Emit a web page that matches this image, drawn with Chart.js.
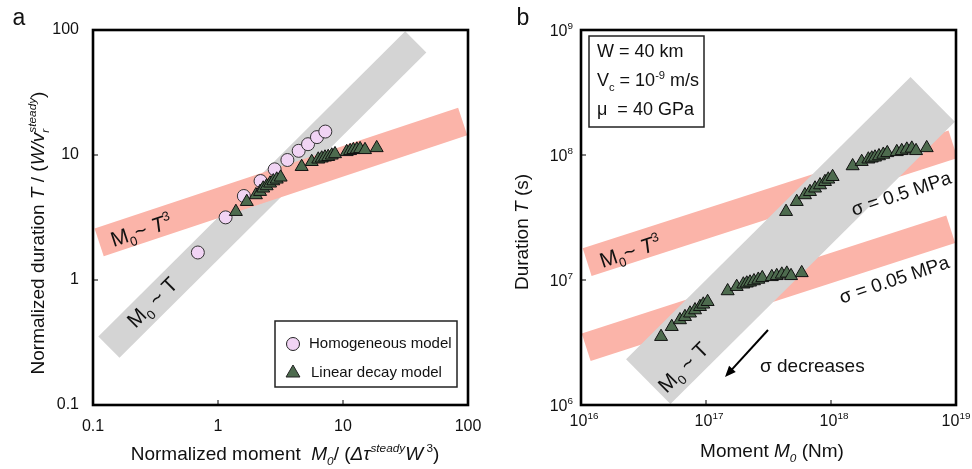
<!DOCTYPE html>
<html>
<head>
<meta charset="utf-8">
<script src="https://cdn.jsdelivr.net/npm/chart.js@4.4.1/dist/chart.umd.min.js"></script>
<style>
  html, body { margin: 0; padding: 0; background: #fff; }
  #wrap { position: relative; width: 972px; height: 469px; }
  canvas { position: absolute; top: 0; }
  #chartA { left: 0; }
  #chartB { left: 486px; }
</style>
</head>
<body>
<div id="wrap">
  <canvas id="chartA" width="486" height="469"></canvas>
  <canvas id="chartB" width="486" height="469"></canvas>
</div>
<script>
/* ---- panel a : normalized moment vs normalized duration ---- */
const homoMoment   = [0.69, 1.15, 1.61, 2.19, 2.84, 3.59, 4.42, 5.25, 6.19, 7.22];
const homoDuration = [1.66, 3.17, 4.70, 6.19, 7.68, 9.12, 10.8, 12.2, 13.9, 15.4];

const decayMoment   = [1.39, 1.70, 2.01, 2.17, 2.30, 2.45, 2.61, 2.77, 2.95, 3.17,
                       4.67, 5.62, 6.34, 6.76, 7.18, 7.62, 8.13, 8.63, 10.7, 11.4, 12.1, 12.9, 13.7, 15.0, 18.6];
const decayDuration = [3.52, 4.23, 4.79, 5.09, 5.42, 5.65, 5.94, 6.19, 6.39, 6.63,
                       8.06, 8.83, 9.24, 9.42, 9.59, 9.69, 9.95, 10.2, 10.6, 10.8, 11.0, 11.1, 11.2, 11.0, 11.4];

// scaling bands (end points)
const bandT_A  = [[0.134, 0.29], [38.2, 80.2]];   // M0 ~ T
const bandT3_A = [[0.112, 2.00], [90.7, 18.5]];   // M0 ~ T^3

const xTicksA = [0.1, 1, 10, 100];
const yTicksA = [0.1, 1, 10, 100];
const legendLabels = ['Homogeneous model', 'Linear decay model'];

/* ---- panel b : moment (Nm) vs duration (s) ---- */
const momentHi   = [4.37e17, 5.32e17, 6.19e17, 6.79e17, 7.45e17, 8.17e17, 8.95e17, 9.51e17, 1.03e18,
                    1.49e18, 1.76e18, 1.99e18, 2.12e18, 2.25e18, 2.42e18, 2.62e18, 2.82e18, 3.36e18, 3.68e18, 4.04e18, 4.43e18, 4.79e18, 5.83e18];
const durationHi = [3.52e7, 4.23e7, 4.79e7, 5.08e7, 5.42e7, 5.75e7, 6.11e7, 6.39e7, 6.70e7,
                    8.17e7, 8.84e7, 9.25e7, 9.42e7, 9.59e7, 9.82e7, 1.01e8, 1.04e8, 1.06e8, 1.08e8, 1.11e8, 1.13e8, 1.08e8, 1.14e8];
const momentLo   = [4.37e16, 5.32e16, 6.19e16, 6.79e16, 7.45e16, 8.17e16, 8.95e16, 9.51e16, 1.03e17,
                    1.49e17, 1.76e17, 1.99e17, 2.12e17, 2.25e17, 2.42e17, 2.62e17, 2.82e17, 3.36e17, 3.68e17, 4.04e17, 4.43e17, 4.79e17, 5.83e17];
const durationLo = [3.52e6, 4.23e6, 4.79e6, 5.08e6, 5.42e6, 5.75e6, 6.11e6, 6.39e6, 6.70e6,
                    8.17e6, 8.84e6, 9.25e6, 9.42e6, 9.59e6, 9.82e6, 1.01e7, 1.04e7, 1.06e7, 1.08e7, 1.11e7, 1.13e7, 1.08e7, 1.14e7];

const bandT_B    = [[3.45e16, 1.54e6], [6.51e18, 2.79e8]];
const bandT3hi_B = [[1.12e16, 1.39e7], [9.46e18, 1.22e8]];
const bandT3lo_B = [[1.10e16, 2.90e6], [9.07e18, 2.55e7]];

const xTicksB = [1e16, 1e17, 1e18, 1e19];
const yTicksB = [1e6, 1e7, 1e8, 1e9];

/* ---- style ---- */
const FONT = '"Liberation Sans", Arial, Helvetica, sans-serif';
const PINK = '#fbb4a9';
const GRAY = '#d4d4d4';
const CIRCLE_FILL = '#f1d4f4';
const TRI_FILL = '#4d6b4e';

const toPts = (xs, ys) => xs.map((x, i) => ({ x, y: ys[i] }));
const toLine = seg => seg.map(p => ({ x: p[0], y: p[1] }));

// draws text made of pieces: {t, it, sub, sup, back}
function drawRich(ctx, parts, x, y, size, align, angle) {
  const items = [];
  let cx = 0, prevStart = 0;
  parts.forEach(p => {
    const small = p.sub || p.sup;
    const fs = small ? size * 0.62 : size;
    const font = (p.it ? 'italic ' : '') + fs.toFixed(1) + 'px ' + FONT;
    ctx.font = font;
    const w = ctx.measureText(p.t).width;
    const start = p.back ? prevStart : cx;
    if (!p.back) prevStart = start;
    items.push({ t: p.t, font, x: start, dy: p.sup ? -size * 0.4 : p.sub ? size * 0.25 : 0 });
    cx = Math.max(cx, start + w);
  });
  const x0 = align === 'left' ? 0 : align === 'right' ? -cx : -cx / 2;
  ctx.save();
  ctx.translate(x, y);
  ctx.rotate(angle || 0);
  ctx.fillStyle = '#111';
  ctx.textAlign = 'left';
  ctx.textBaseline = 'alphabetic';
  items.forEach(it => {
    ctx.font = it.font;
    ctx.fillText(it.t, x0 + it.x, size * 0.36 + it.dy);
  });
  ctx.restore();
}

function triangle(ctx, x, y, r) {
  ctx.beginPath();
  for (let k = 0; k < 3; k++) {
    const a = k * 2 * Math.PI / 3;
    const px = x + Math.sin(a) * r, py = y - Math.cos(a) * r;
    k ? ctx.lineTo(px, py) : ctx.moveTo(px, py);
  }
  ctx.closePath();
}

// box round the plot and small inside ticks
const framePlugin = {
  id: 'frame',
  afterDatasetsDraw(chart) {
    const { ctx, chartArea: a, scales } = chart;
    ctx.save();
    ctx.strokeStyle = '#000';
    ctx.lineWidth = 1;
    ctx.beginPath();
    scales.x.ticks.forEach(t => {
      const px = scales.x.getPixelForValue(t.value);
      ctx.moveTo(px, a.bottom); ctx.lineTo(px, a.bottom - 5);
    });
    scales.y.ticks.forEach(t => {
      const py = scales.y.getPixelForValue(t.value);
      ctx.moveTo(a.left, py); ctx.lineTo(a.left + 5, py);
    });
    ctx.stroke();
    ctx.lineWidth = 2.6;
    ctx.strokeRect(a.left, a.top, a.right - a.left, a.bottom - a.top);
    ctx.restore();
  }
};

const bandSet = (seg, color, width) => ({
  data: toLine(seg), showLine: true, borderColor: color, backgroundColor: color,
  borderWidth: width, borderCapStyle: 'butt', pointRadius: 0, clip: 0
});

const logAxis = (min, max, ticks, size, showLabels, pad) => ({
  type: 'logarithmic', min, max,
  afterBuildTicks: s => { s.ticks = ticks.map(v => ({ value: v })); },
  afterFit: s => { if (s.isHorizontal()) s.height = size; else s.width = size; },
  grid: { display: false }, border: { display: false },
  ticks: {
    display: showLabels, autoSkip: false, maxRotation: 0, padding: pad, color: '#111',
    font: { family: FONT, size: 16 }, callback: v => String(v)
  }
});

const baseOptions = {
  responsive: false, animation: false, devicePixelRatio: 1,
  plugins: { legend: { display: false }, tooltip: { enabled: false } }
};

/* ---- panel a ---- */
const annotA = {
  id: 'annotA',
  afterDraw(chart) {
    const ctx = chart.ctx;
    drawRich(ctx, [{ t: 'a' }], 19, 17, 23, 'center');
    drawRich(ctx, [{ t: 'M' }, { t: '0', sub: 1 }, { t: '~ ' }, { t: 'T', it: 1 }, { t: '3', sup: 1 }],
      141, 230, 21, 'center', -Math.atan(1 / 3));
    drawRich(ctx, [{ t: 'M' }, { t: '0', sub: 1 }, { t: ' ~ T' }],
      152, 302, 21, 'center', -Math.PI / 4);
    drawRich(ctx, [{ t: 'Normalized moment  ' }, { t: 'M', it: 1 }, { t: '0', it: 1, sub: 1 }, { t: '/ (' },
      { t: 'Δτ', it: 1 }, { t: 'steady', it: 1, sup: 1 }, { t: 'W', it: 1 }, { t: ' 3', sup: 1 }, { t: ')' }],
      285, 453, 19, 'center');
    drawRich(ctx, [{ t: 'Normalized duration ' }, { t: 'T', it: 1 }, { t: ' / (' }, { t: 'W/v', it: 1 },
      { t: 'r', it: 1, sub: 1 }, { t: 'steady', it: 1, sup: 1, back: 1 }, { t: ')' }],
      37, 233, 19, 'center', -Math.PI / 2);

    // legend
    ctx.save();
    ctx.strokeStyle = '#222';
    ctx.lineWidth = 1.5;
    ctx.strokeRect(275, 321, 182, 66);
    ctx.lineWidth = 1;
    ctx.fillStyle = CIRCLE_FILL;
    ctx.beginPath(); ctx.arc(293, 344, 6.5, 0, Math.PI * 2); ctx.fill(); ctx.stroke();
    ctx.fillStyle = TRI_FILL;
    triangle(ctx, 293, 373, 8); ctx.fill(); ctx.stroke();
    ctx.restore();
    drawRich(ctx, [{ t: legendLabels[0] }], 309, 343, 15, 'left');
    drawRich(ctx, [{ t: legendLabels[1] }], 311, 372, 15, 'left');
  }
};

new Chart(document.getElementById('chartA'), {
  type: 'scatter',
  data: {
    datasets: [
      { data: toPts(decayMoment, decayDuration), pointStyle: 'triangle', pointRadius: 7.5,
        backgroundColor: TRI_FILL, borderColor: '#111', borderWidth: 1 },
      { data: toPts(homoMoment, homoDuration), pointStyle: 'circle', pointRadius: 6.5,
        backgroundColor: CIRCLE_FILL, borderColor: '#333', borderWidth: 1 },
      bandSet(bandT3_A, PINK, 29),
      bandSet(bandT_A, GRAY, 30)
    ]
  },
  options: {
    ...baseOptions,
    layout: { padding: { top: 30, right: 18, bottom: 0, left: 0 } },
    scales: {
      x: logAxis(0.1, 100, xTicksA, 64, true, 4),
      y: logAxis(0.1, 100, yTicksA, 93, true, 6)
    }
  },
  plugins: [framePlugin, annotA]
});

/* ---- panel b ---- */
const annotB = {
  id: 'annotB',
  afterDraw(chart) {
    const { ctx, chartArea: a, scales } = chart;
    xTicksB.forEach((v, i) => {
      const shift = i === xTicksB.length - 1 ? 0 : 3;
      drawRich(ctx, [{ t: '10' }, { t: String(Math.round(Math.log10(v))), sup: 1 }],
        scales.x.getPixelForValue(v) + shift, 420, 16, 'center');
    });
    yTicksB.forEach(v => {
      drawRich(ctx, [{ t: '10' }, { t: String(Math.round(Math.log10(v))), sup: 1 }],
        a.left - 8, scales.y.getPixelForValue(v), 16, 'right');
    });

    drawRich(ctx, [{ t: 'b' }], 37, 17, 23, 'center');
    drawRich(ctx, [{ t: 'M' }, { t: '0', sub: 1 }, { t: '~ ' }, { t: 'T', it: 1 }, { t: '3', sup: 1 }],
      144, 251, 21, 'center', -Math.atan(1 / 3));
    drawRich(ctx, [{ t: 'M' }, { t: '0', sub: 1 }, { t: ' ~ T' }],
      197, 367, 21, 'center', -Math.PI / 4);
    drawRich(ctx, [{ t: 'σ = 0.5 MPa' }], 415, 193, 19, 'center', -Math.atan(1 / 3));
    drawRich(ctx, [{ t: 'σ = 0.05 MPa' }], 408, 279, 19, 'center', -Math.atan(1 / 3));
    drawRich(ctx, [{ t: 'σ decreases' }], 274, 365, 19, 'left');
    drawRich(ctx, [{ t: 'Moment ' }, { t: 'M', it: 1 }, { t: '0', it: 1, sub: 1 }, { t: ' (Nm)' }],
      286, 450, 19, 'center');
    drawRich(ctx, [{ t: 'Duration ' }, { t: 'T', it: 1 }, { t: ' (s)' }],
      35, 232, 19, 'center', -Math.PI / 2);

    // parameter box
    ctx.save();
    ctx.strokeStyle = '#222';
    ctx.lineWidth = 1.5;
    ctx.strokeRect(103, 36, 115, 91);
    ctx.restore();
    drawRich(ctx, [{ t: 'W = 40 km' }], 111, 51, 18, 'left');
    drawRich(ctx, [{ t: 'V' }, { t: 'c', sub: 1 }, { t: ' = 10' }, { t: '-9', sup: 1 }, { t: ' m/s' }], 111, 80, 18, 'left');
    drawRich(ctx, [{ t: 'μ  = 40 GPa' }], 111, 109, 18, 'left');

    // arrow
    ctx.save();
    ctx.strokeStyle = '#000';
    ctx.fillStyle = '#000';
    ctx.lineWidth = 2;
    const x1 = 282, y1 = 330, x2 = 239, y2 = 377;
    const L = Math.hypot(x2 - x1, y2 - y1), ux = (x2 - x1) / L, uy = (y2 - y1) / L;
    ctx.beginPath(); ctx.moveTo(x1, y1); ctx.lineTo(x2 - ux * 8, y2 - uy * 8); ctx.stroke();
    ctx.beginPath();
    ctx.moveTo(x2, y2);
    ctx.lineTo(x2 - ux * 11 - uy * 4.5, y2 - uy * 11 + ux * 4.5);
    ctx.lineTo(x2 - ux * 11 + uy * 4.5, y2 - uy * 11 - ux * 4.5);
    ctx.closePath(); ctx.fill();
    ctx.restore();
  }
};

new Chart(document.getElementById('chartB'), {
  type: 'scatter',
  data: {
    datasets: [
      { data: toPts(momentHi, durationHi), pointStyle: 'triangle', pointRadius: 7.5,
        backgroundColor: TRI_FILL, borderColor: '#111', borderWidth: 1 },
      { data: toPts(momentLo, durationLo), pointStyle: 'triangle', pointRadius: 7.5,
        backgroundColor: TRI_FILL, borderColor: '#111', borderWidth: 1 },
      bandSet(bandT_B, GRAY, 63),
      bandSet(bandT3hi_B, PINK, 29),
      bandSet(bandT3lo_B, PINK, 29)
    ]
  },
  options: {
    ...baseOptions,
    layout: { padding: { top: 30, right: 16, bottom: 0, left: 0 } },
    scales: {
      x: logAxis(1e16, 1e19, xTicksB, 64, false, 4),
      y: logAxis(1e6, 1e9, yTicksB, 95, false, 6)
    }
  },
  plugins: [framePlugin, annotB]
});
</script>
</body>
</html>
